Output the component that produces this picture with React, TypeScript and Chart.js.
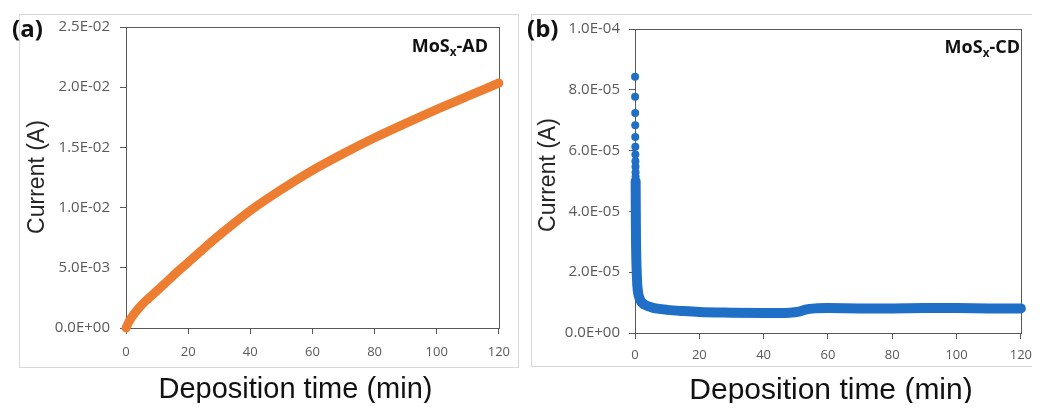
import React, { useEffect, useRef } from "react";
import { Chart, registerables } from "chart.js";

Chart.register(...registerables);

// ---------- data ----------
const X_TICKS = [0, 20, 40, 60, 80, 100, 120];

const Y_TICKS_AD = [0, 0.005, 0.01, 0.015, 0.02, 0.025];
const Y_LABELS_AD = ["0.0E+00", "5.0E-03", "1.0E-02", "1.5E-02", "2.0E-02", "2.5E-02"];

const Y_TICKS_CD = [0, 2e-5, 4e-5, 6e-5, 8e-5, 1e-4];
const Y_LABELS_CD = ["0.0E+00", "2.0E-05", "4.0E-05", "6.0E-05", "8.0E-05", "1.0E-04"];

// (a) MoSx-AD : deposition time (min) vs current (A)
const TIME_AD = [0, 1, 2, 3, 5, 7, 10, 15, 20, 25, 30, 40, 50, 60, 70, 80, 90, 100, 110, 120];
const CURRENT_AD = [
  0, 0.55e-3, 0.95e-3, 1.3e-3, 1.9e-3, 2.4e-3, 3.1e-3, 4.3e-3, 5.45e-3, 6.6e-3,
  7.7e-3, 9.75e-3, 11.5e-3, 13.1e-3, 14.5e-3, 15.8e-3, 17.0e-3, 18.15e-3, 19.25e-3, 20.35e-3,
];

// (b) MoSx-CD : first discrete points at the very start
const TIME_CD_START = [0.02, 0.03, 0.05, 0.07, 0.08, 0.1, 0.12, 0.13, 0.15, 0.17, 0.18, 0.2];
const CURRENT_CD_START = [
  8.43e-5, 7.77e-5, 7.24e-5, 6.83e-5, 6.45e-5, 6.13e-5, 5.87e-5, 5.65e-5, 5.47e-5, 5.29e-5, 5.14e-5, 4.99e-5,
];
// (b) MoSx-CD : dense part of the record
const TIME_CD = [
  0.2, 0.25, 0.3, 0.4, 0.5, 0.7, 1, 1.5, 2, 3, 5, 7, 10, 15, 20, 30, 40, 48, 51, 53, 56, 60, 70, 80, 90, 100, 110, 120,
];
const CURRENT_CD = [
  4.99e-5, 4.0e-5, 3.2e-5, 2.5e-5, 2.1e-5, 1.6e-5, 1.3e-5, 1.12e-5, 1.02e-5, 9.3e-6, 8.5e-6, 8.0e-6, 7.6e-6,
  7.2e-6, 6.9e-6, 6.7e-6, 6.6e-6, 6.7e-6, 7.0e-6, 7.7e-6, 8.1e-6, 8.2e-6, 8.1e-6, 8.1e-6, 8.2e-6, 8.2e-6, 8.1e-6, 8.1e-6,
];

// ---------- helpers ----------
const AXIS_COLOR = "#595959";
const ORANGE = "#ED7D31";
const BLUE = "#1F6FC6";

const plotFrame = {
  id: "plotFrame",
  beforeDatasetsDraw(chart: any) {
    const { ctx, chartArea: a } = chart;
    ctx.save();
    ctx.strokeStyle = AXIS_COLOR;
    ctx.lineWidth = 1;
    ctx.strokeRect(
      Math.round(a.left) + 0.5,
      Math.round(a.top) + 0.5,
      Math.round(a.right - a.left),
      Math.round(a.bottom - a.top)
    );
    ctx.restore();
  },
};

function toPoints(xs: number[], ys: number[]) {
  return xs.map((x, i) => ({ x, y: ys[i] }));
}

function makeOptions(p: {
  top: number;
  yWidth: number;
  xHeight: number;
  yMax: number;
  yTicks: number[];
  yLabels: string[];
  xPad: number;
  yPad: number;
}) {
  return {
    responsive: false,
    animation: false,
    devicePixelRatio: 1,
    layout: { padding: { left: 0, right: 15, top: p.top, bottom: 0 } },
    plugins: { legend: { display: false }, tooltip: { enabled: false } },
    scales: {
      x: {
        type: "linear",
        min: 0,
        max: 120,
        afterBuildTicks: (s: any) => {
          s.ticks = X_TICKS.map((v) => ({ value: v }));
        },
        afterFit: (s: any) => {
          s.height = p.xHeight;
        },
        border: { display: false },
        grid: { drawOnChartArea: false, drawTicks: true, tickLength: 6, color: AXIS_COLOR },
        ticks: {
          padding: p.xPad,
          color: AXIS_COLOR,
          maxRotation: 0,
          font: { family: "'Open Sans'", size: 13 },
          callback: (v: any, i: number) => String(X_TICKS[i]),
        },
      },
      y: {
        type: "linear",
        min: 0,
        max: p.yMax,
        afterBuildTicks: (s: any) => {
          s.ticks = p.yTicks.map((v) => ({ value: v }));
        },
        afterFit: (s: any) => {
          s.width = p.yWidth;
        },
        border: { display: false },
        grid: { drawOnChartArea: false, drawTicks: true, tickLength: 6, color: AXIS_COLOR },
        ticks: {
          padding: p.yPad,
          color: AXIS_COLOR,
          font: { family: "'Open Sans'", size: 15 },
          callback: (v: any, i: number) => p.yLabels[i],
        },
      },
    },
  };
}

const CANVAS_H = 395;

function ChartCanvas({ config, left, width, height }: any) {
  const ref = useRef<HTMLCanvasElement | null>(null);
  useEffect(() => {
    if (!ref.current) return;
    const chart = new Chart(ref.current, config);
    return () => chart.destroy();
  }, []);
  return (
    <canvas
      ref={ref}
      width={width}
      height={height}
      style={{ position: "absolute", left, top: 0, width, height, display: "block" }}
    />
  );
}

const configAD: any = {
  type: "line",
  data: {
    datasets: [
      {
        label: "MoSx-AD",
        data: toPoints(TIME_AD, CURRENT_AD),
        borderColor: ORANGE,
        backgroundColor: ORANGE,
        borderWidth: 9,
        pointRadius: 0,
        cubicInterpolationMode: "monotone",
        borderCapStyle: "round",
        borderJoinStyle: "round",
        fill: false,
        clip: false,
      },
    ],
  },
  options: makeOptions({
    top: 19,
    yWidth: 118,
    xHeight: CANVAS_H - 320,
    yMax: 0.025,
    yTicks: Y_TICKS_AD,
    yLabels: Y_LABELS_AD,
    xPad: 10,
    yPad: 10,
  }),
  plugins: [plotFrame],
};

const configCD: any = {
  type: "line",
  data: {
    datasets: [
      {
        label: "MoSx-CD",
        data: toPoints(TIME_CD, CURRENT_CD),
        borderColor: BLUE,
        backgroundColor: BLUE,
        borderWidth: 10,
        pointRadius: 0,
        cubicInterpolationMode: "monotone",
        borderCapStyle: "round",
        borderJoinStyle: "round",
        fill: false,
        clip: false,
      },
      {
        label: "MoSx-CD start",
        data: toPoints(TIME_CD_START, CURRENT_CD_START),
        showLine: false,
        pointRadius: 4,
        pointBorderWidth: 0,
        pointBackgroundColor: BLUE,
        borderColor: BLUE,
        backgroundColor: BLUE,
        clip: false,
      },
    ],
  },
  options: makeOptions({
    top: 21,
    yWidth: 111,
    xHeight: CANVAS_H - 325,
    yMax: 1e-4,
    yTicks: Y_TICKS_CD,
    yLabels: Y_LABELS_CD,
    xPad: 8,
    yPad: 9,
  }),
  plugins: [plotFrame],
};

const abs = (s: React.CSSProperties): React.CSSProperties => ({ position: "absolute", whiteSpace: "nowrap", ...s });

const panelLabel: React.CSSProperties = {
  fontFamily: "'Open Sans', sans-serif",
  fontWeight: 700,
  fontSize: 24,
  lineHeight: 1,
  color: "#111",
};
const yTitle: React.CSSProperties = {
  fontFamily: "'Liberation Sans', Arial, sans-serif",
  fontSize: 23,
  lineHeight: 1,
  color: "#262626",
  transform: "translate(-50%, -50%) rotate(-90deg)",
};
const xTitle: React.CSSProperties = {
  fontFamily: "'Liberation Sans', Arial, sans-serif",
  lineHeight: 1,
  color: "#111",
  transform: "translateX(-50%)",
};
const legendText: React.CSSProperties = {
  fontFamily: "'Open Sans', sans-serif",
  fontWeight: 700,
  fontSize: 18,
  lineHeight: 1,
  color: "#111",
  transform: "translateX(-100%)",
};
const subX: React.CSSProperties = { fontSize: "0.65em", position: "relative", top: "0.3em" };

export default function App() {
  return (
    <div style={{ position: "relative", width: 1024, height: 395 }}>
      {/* chart frames */}
      <div style={abs({ left: 11, top: 6, width: 500, height: 354, border: "1px solid #d9d9d9", boxSizing: "border-box" })} />
      <div style={abs({ left: 523, top: 6, width: 505, height: 353, border: "1px solid #d9d9d9", boxSizing: "border-box" })} />

      <ChartCanvas config={configAD} left={0} width={512} height={CANVAS_H} />
      <ChartCanvas config={configCD} left={516} width={516} height={CANVAS_H} />

      <div style={abs({ left: 4, top: 8, ...panelLabel })}>(a)</div>
      <div style={abs({ left: 519, top: 8, ...panelLabel })}>(b)</div>

      <div style={abs({ left: 28, top: 169, ...yTitle })}>Current (A)</div>
      <div style={abs({ left: 539, top: 167, ...yTitle })}>Current (A)</div>

      <div style={abs({ left: 287.5, top: 366, fontSize: 29, ...xTitle })}>Deposition time (min)</div>
      <div style={abs({ left: 823, top: 366, fontSize: 30, ...xTitle })}>Deposition time (min)</div>

      <div style={abs({ left: 480, top: 28, ...legendText })}>
        MoS<span style={subX}>x</span>-AD
      </div>
      <div style={abs({ left: 1012, top: 29, ...legendText })}>
        MoS<span style={subX}>x</span>-CD
      </div>
    </div>
  );
}
